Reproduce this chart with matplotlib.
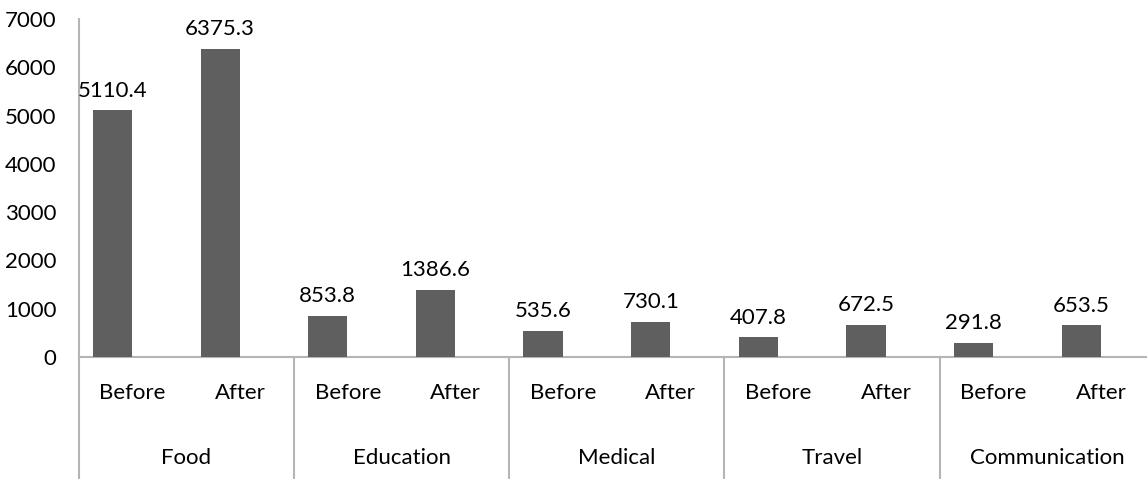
import matplotlib
matplotlib.use("Agg")
import matplotlib.pyplot as plt
from matplotlib.lines import Line2D

groups = ["Food", "Education", "Medical", "Travel", "Communication"]
subcats = ["Before", "After"]
values = [5110.4, 6375.3, 853.8, 1386.6, 535.6, 730.1, 407.8, 672.5, 291.8, 653.5]
yticks = [0, 1000, 2000, 3000, 4000, 5000, 6000, 7000]

plt.rcParams['font.family'] = ['Lato', 'DejaVu Sans']
W, H = 1147, 479
fig = plt.figure(figsize=(W / 100, H / 100), dpi=100)
left, right, bottom, top = 78.6, 1155, 357, 19
ax = fig.add_axes([left / W, (H - bottom) / H, (right - left) / W, (bottom - top) / H])

bar_color = "#5f5f5f"
axis_color = "#b5b5b5"
fs = 16

n = len(values)
xs = [i + 0.5 - 0.185 for i in range(n)]
ax.bar(xs, values, width=0.365, color=bar_color, zorder=3)
for x, v in zip(xs, values):
    ax.annotate(f"{v:.1f}", (x, v), xytext=(0, 7), textcoords="offset points",
                ha="center", va="bottom", fontsize=fs, color="#000000")

ax.set_xlim(0, n)
ax.set_ylim(0, 7000)
ax.set_yticks(yticks)
ax.set_yticklabels([str(t) for t in yticks], fontsize=fs)
ax.tick_params(axis="y", length=0, pad=16)
ax.set_xticks([])
for s in ["top", "right"]:
    ax.spines[s].set_visible(False)
for s in ["left", "bottom"]:
    ax.spines[s].set_color(axis_color)
    ax.spines[s].set_linewidth(1.5)

trans = ax.get_xaxis_transform()
ax_h = bottom - top
def yfrac(py):
    return (bottom - py) / ax_h

for i in range(n):
    ax.text(i + 0.5, yfrac(393), subcats[i % 2], transform=trans,
            fontsize=fs, ha="center", va="center", clip_on=False)
for g, name in enumerate(groups):
    ax.text(2 * g + 1, yfrac(458), name, transform=trans,
            fontsize=fs, ha="center", va="center", clip_on=False)
for g in range(len(groups)):
    ax.add_line(Line2D([2 * g, 2 * g], [0, yfrac(H + 5)], transform=trans,
                       color=axis_color, linewidth=1.5, clip_on=False))

fig.savefig("out.png", dpi=100)
